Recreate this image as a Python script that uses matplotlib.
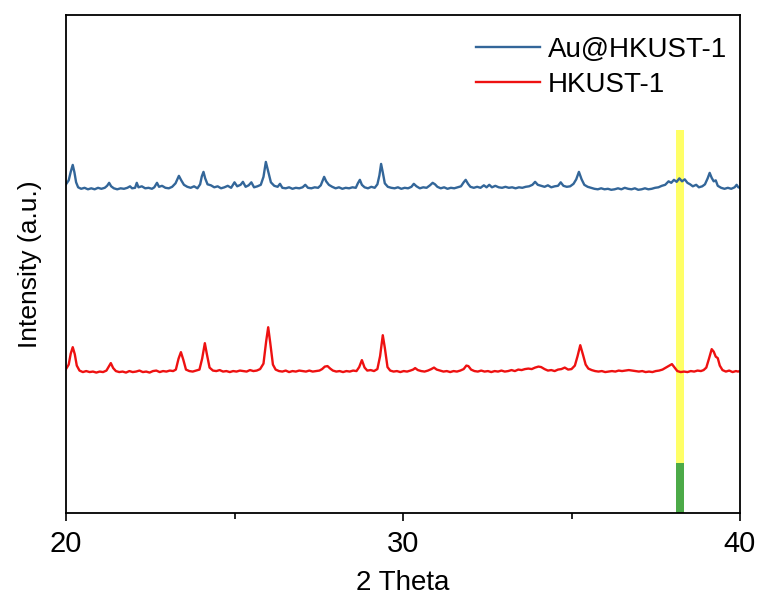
import matplotlib
matplotlib.use("Agg")
import matplotlib.pyplot as plt
from matplotlib.ticker import MultipleLocator

plt.rcParams['font.family'] = ['Liberation Sans', 'DejaVu Sans']

# Au@HKUST-1 pattern (2 Theta, intensity a.u.)
au_x = [20.00, 20.08, 20.14, 20.20, 20.25, 20.30, 20.36, 20.45, 20.55, 20.65, 20.75, 20.85, 20.95,
        21.05, 21.15, 21.22, 21.28, 21.34, 21.42, 21.52, 21.62, 21.72, 21.82, 21.90, 21.96,
        22.05, 22.10, 22.15, 22.25, 22.35, 22.45, 22.55, 22.62, 22.70, 22.76, 22.85, 22.95,
        23.05, 23.15, 23.25, 23.35, 23.42, 23.50, 23.60, 23.70, 23.80, 23.90, 23.98,
        24.03, 24.08, 24.13, 24.20, 24.30, 24.40, 24.50, 24.60, 24.70, 24.80, 24.90,
        25.00, 25.08, 25.18, 25.25, 25.33, 25.42, 25.50, 25.58, 25.68, 25.78, 25.86, 25.93,
        26.00, 26.08, 26.18, 26.28, 26.35, 26.42, 26.52, 26.62, 26.72, 26.82, 26.92,
        27.02, 27.10, 27.18, 27.28, 27.38, 27.48, 27.56, 27.62, 27.66, 27.72, 27.80, 27.90,
        28.00, 28.10, 28.20, 28.30, 28.40, 28.50, 28.60, 28.66, 28.72, 28.78, 28.86, 28.96,
        29.06, 29.16, 29.24, 29.30, 29.35, 29.40, 29.46, 29.55, 29.65, 29.75, 29.85, 29.95,
        30.05, 30.15, 30.25, 30.32, 30.40, 30.50, 30.60, 30.70, 30.80, 30.88, 30.95,
        31.02, 31.12, 31.22, 31.32, 31.42, 31.52, 31.62, 31.72, 31.80, 31.86, 31.93,
        32.00, 32.10, 32.20, 32.30, 32.40, 32.48, 32.56, 32.64, 32.74, 32.84, 32.94,
        33.04, 33.14, 33.24, 33.34, 33.44, 33.54, 33.64, 33.74, 33.84, 33.92,
        34.00, 34.10, 34.20, 34.30, 34.40, 34.50, 34.60, 34.68, 34.76, 34.86, 34.96,
        35.06, 35.14, 35.22, 35.30, 35.38, 35.48, 35.58, 35.68, 35.78, 35.88, 35.98,
        36.08, 36.18, 36.28, 36.38, 36.48, 36.58, 36.68, 36.78, 36.88, 36.98,
        37.08, 37.18, 37.28, 37.38, 37.48, 37.58, 37.68, 37.78, 37.88, 37.96,
        38.04, 38.12, 38.20, 38.28, 38.36, 38.44, 38.52, 38.60, 38.70, 38.78, 38.88, 38.96,
        39.04, 39.10, 39.16, 39.22, 39.28, 39.34, 39.44, 39.54, 39.64, 39.74, 39.84, 39.90, 39.95,
        40.00]
au_y = [66.0, 66.8, 68.5, 69.9, 68.4, 66.4, 65.4, 65.1, 65.3, 65.0, 65.2, 65.0, 65.3,
        65.1, 65.3, 65.7, 66.3, 65.6, 65.2, 65.0, 65.2, 65.1, 65.3, 65.6, 65.2,
        65.3, 66.3, 65.4, 65.6, 65.2, 65.3, 65.1, 65.4, 66.3, 65.5, 65.7, 65.3,
        65.2, 65.5, 66.2, 67.7, 66.8, 65.9, 65.5, 65.3, 65.6, 65.2, 66.0,
        67.6, 68.5, 67.2, 66.0, 65.8, 65.4, 65.6, 65.2, 65.4, 65.7, 65.3,
        66.4, 65.6, 65.9, 66.5, 65.5, 65.8, 66.4, 65.4, 65.6, 65.9, 67.5, 70.5,
        68.6, 66.4, 65.7, 65.5, 66.1, 65.3, 65.2, 65.4, 65.1, 65.3, 65.2,
        65.4, 65.9, 65.3, 65.2, 65.4, 65.3, 65.8, 66.8, 67.5, 66.6, 65.9, 65.5,
        65.2, 65.4, 65.1, 65.3, 65.2, 65.4, 65.3, 66.2, 66.9, 65.9, 65.4, 65.2,
        65.5, 65.3, 66.0, 67.8, 70.1, 68.4, 66.2, 65.5, 65.3, 65.2, 65.4, 65.1,
        65.3, 65.2, 65.5, 66.1, 65.6, 65.2, 65.4, 65.3, 65.8, 66.3, 66.0,
        65.5, 65.2, 65.4, 65.1, 65.3, 65.2, 65.4, 65.6, 66.4, 66.9, 66.1,
        65.5, 65.3, 65.5, 65.3, 65.8, 65.4, 65.9, 65.4, 65.7, 65.4, 65.3,
        65.5, 65.3, 65.4, 65.2, 65.4, 65.3, 65.5, 65.6, 65.9, 66.5,
        65.9, 65.7, 65.5, 65.8, 65.4, 65.6, 65.7, 66.4, 65.7, 65.5, 65.6,
        66.1, 67.0, 68.5, 67.0, 65.9, 65.5, 65.3, 65.1, 65.0, 65.2, 65.0,
        65.1, 64.9, 65.0, 65.2, 65.0, 65.3, 65.1, 65.0, 65.2, 64.9,
        65.0, 65.2, 65.0, 65.1, 65.3, 65.4, 65.7, 65.9, 66.6, 66.3,
        66.9, 66.5, 67.2, 66.6, 67.0, 66.3, 66.0, 65.6, 65.9, 65.4, 65.6, 66.0,
        67.2, 68.3, 67.3, 66.6, 66.8, 65.7, 65.3, 65.1, 65.3, 65.1, 65.4, 65.9, 65.4,
        65.3]

# HKUST-1 pattern
hk_x = [20.00, 20.08, 20.14, 20.20, 20.26, 20.32, 20.40, 20.50, 20.60, 20.70, 20.80, 20.90,
        21.00, 21.10, 21.20, 21.27, 21.33, 21.40, 21.48, 21.58, 21.68, 21.78, 21.88, 21.98,
        22.08, 22.18, 22.28, 22.38, 22.48, 22.58, 22.68, 22.78, 22.88, 22.98,
        23.08, 23.18, 23.26, 23.34, 23.41, 23.48, 23.56, 23.66, 23.76, 23.86, 23.96,
        24.04, 24.12, 24.18, 24.26, 24.36, 24.46, 24.56, 24.66, 24.76, 24.86, 24.96,
        25.06, 25.16, 25.26, 25.36, 25.46, 25.56, 25.66, 25.76, 25.86, 25.94,
        26.00, 26.06, 26.14, 26.22, 26.32, 26.42, 26.52, 26.62, 26.72, 26.82, 26.92,
        27.02, 27.12, 27.22, 27.32, 27.42, 27.52, 27.60, 27.68, 27.76, 27.84, 27.92,
        28.02, 28.12, 28.22, 28.32, 28.42, 28.52, 28.62, 28.70, 28.78, 28.86, 28.94,
        29.04, 29.14, 29.24, 29.32, 29.40, 29.46, 29.54, 29.62, 29.72, 29.82, 29.92,
        30.02, 30.12, 30.22, 30.30, 30.36, 30.44, 30.54, 30.64, 30.74, 30.84, 30.92,
        31.00, 31.10, 31.20, 31.30, 31.40, 31.50, 31.60, 31.70, 31.80, 31.88, 31.94,
        32.02, 32.12, 32.22, 32.32, 32.42, 32.52, 32.62, 32.72, 32.82, 32.92,
        33.02, 33.12, 33.22, 33.32, 33.42, 33.52, 33.62, 33.72, 33.82, 33.92,
        34.02, 34.10, 34.20, 34.30, 34.40, 34.50, 34.60, 34.70, 34.80, 34.90,
        35.00, 35.10, 35.18, 35.26, 35.34, 35.42, 35.50, 35.60, 35.70, 35.80, 35.90,
        36.00, 36.10, 36.20, 36.30, 36.40, 36.50, 36.60, 36.70, 36.80, 36.90,
        37.00, 37.10, 37.20, 37.30, 37.40, 37.50, 37.60, 37.70, 37.80, 37.90, 37.98,
        38.06, 38.14, 38.24, 38.34, 38.44, 38.54, 38.64, 38.74, 38.84, 38.92,
        39.00, 39.08, 39.16, 39.22, 39.28, 39.34, 39.40, 39.48, 39.58, 39.68, 39.78, 39.88, 39.94,
        40.00]
hk_y = [28.9, 29.8, 32.0, 33.3, 31.9, 29.6, 28.6, 28.3, 28.5, 28.3, 28.4, 28.2,
        28.4, 28.3, 28.6, 29.4, 30.1, 29.1, 28.5, 28.3, 28.4, 28.2, 28.5, 28.3,
        28.4, 28.6, 28.3, 28.4, 28.2, 28.5, 28.6, 28.3, 28.5, 28.4,
        28.6, 28.5, 28.8, 31.0, 32.3, 30.8, 28.8, 28.5, 28.4, 28.6, 28.8,
        31.0, 34.1, 31.9, 29.2, 28.6, 28.5, 28.7, 28.4, 28.5, 28.3, 28.5,
        28.4, 28.6, 28.5, 28.4, 28.7, 28.5, 28.6, 28.9, 30.0, 34.5,
        37.3, 34.2, 29.8, 28.8, 28.5, 28.4, 28.6, 28.3, 28.5, 28.4, 28.6,
        28.5, 28.4, 28.6, 28.4, 28.5, 28.6, 28.9, 29.4, 29.5, 29.0, 28.6,
        28.4, 28.5, 28.3, 28.5, 28.4, 28.6, 28.5, 29.3, 30.7, 29.2, 28.6,
        28.7, 28.5, 28.9, 31.5, 35.7, 33.2, 29.3, 28.6, 28.4, 28.5, 28.3,
        28.5, 28.4, 28.6, 28.8, 29.1, 28.7, 28.5, 28.4, 28.6, 28.9, 29.2,
        28.8, 28.6, 28.4, 28.5, 28.3, 28.5, 28.4, 28.6, 28.9, 29.6, 29.5,
        28.8, 28.5, 28.4, 28.6, 28.4, 28.5, 28.3, 28.5, 28.4, 28.6,
        28.4, 28.5, 28.7, 28.5, 28.8, 28.7, 28.9, 29.0, 28.9, 29.2,
        29.4, 29.3, 28.9, 28.6, 28.7, 28.5, 28.8, 28.9, 29.2, 28.8,
        28.9, 29.6, 31.5, 33.7, 31.8, 29.8, 29.0, 28.7, 28.5, 28.4, 28.5,
        28.3, 28.4, 28.5, 28.4, 28.6, 28.5, 28.6, 28.7, 28.6, 28.5,
        28.4, 28.5, 28.3, 28.4, 28.3, 28.5, 28.6, 28.8, 29.2, 29.6, 29.9,
        29.2, 28.5, 28.3, 28.4, 28.3, 28.5, 28.4, 28.6, 28.5, 28.7,
        29.2, 31.0, 32.9, 32.4, 31.4, 31.1, 29.6, 28.7, 28.4, 28.6, 28.3, 28.5, 28.4,
        28.5]

# Reference marker bar (Au position) split in two coloured segments
ref_pos = [38.22]
ref_yellow_height = [76.9]
ref_green_height = [10.0]

series_labels = ["Au@HKUST-1", "HKUST-1"]
x_ticks = [20, 30, 40]

fig = plt.figure(figsize=(7.61, 6.01), dpi=100)
ax = fig.add_axes([66/761, 88/601, 674/761, 498/601])

ax.bar(ref_pos, ref_yellow_height, width=0.25, color="#FFFF66", zorder=1)
ax.bar(ref_pos, ref_green_height, width=0.25, color="#4CAA48", zorder=1)

ax.plot(au_x, au_y, color="#336699", lw=1.7, label=series_labels[0], zorder=2)
ax.plot(hk_x, hk_y, color="#EE1111", lw=1.7, label=series_labels[1], zorder=2)

ax.set_xlim(20, 40)
ax.set_ylim(0, 100)
ax.set_xticks(x_ticks)
ax.xaxis.set_minor_locator(MultipleLocator(5))
ax.tick_params(axis='x', which='major', direction='out', length=6, width=1.2, labelsize=21, pad=6)
ax.tick_params(axis='x', which='minor', direction='out', length=4, width=1.2)
ax.set_yticks([])
for s in ax.spines.values():
    s.set_linewidth(1.3)

ax.set_xlabel("2 Theta", fontsize=20, labelpad=9)
ax.set_ylabel("Intensity (a.u.)", fontsize=19, labelpad=17)

leg = ax.legend(loc="upper right", frameon=False, fontsize=20, handlelength=2.3,
                handletextpad=0.3, labelspacing=0.3, borderaxespad=0.4,
                bbox_to_anchor=(1.014, 1.0))

fig.savefig("out.png", dpi=100)
